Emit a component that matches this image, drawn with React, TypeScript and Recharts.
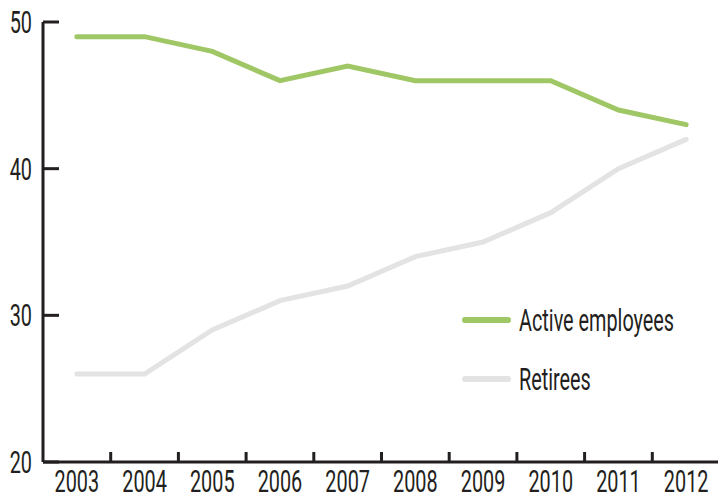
import { LineChart, Line, XAxis, YAxis, Legend } from 'recharts';

const years = ['2003', '2004', '2005', '2006', '2007', '2008', '2009', '2010', '2011', '2012'];
const activeEmployees = [49, 49, 48, 46, 47, 46, 46, 46, 44, 43];
const retirees = [26, 26, 29, 31, 32, 34, 35, 37, 40, 42];
const yTicks = [20, 30, 40, 50];

const GREEN = '#a0c765';
const GREY = '#e3e3e3';
const INK = '#231f20';
const FONT = 'Roboto, "DejaVu Sans", sans-serif';
const SQUEEZE = 0.64;

const data = years.map((year, i) => ({ year, active: activeEmployees[i], retirees: retirees[i] }));

const YTick = ({ x, y, payload }: any) => (
  <text
    transform={`translate(${x},${y + 11}) scale(${SQUEEZE},1)`}
    textAnchor="end"
    fontFamily={FONT}
    fontSize={31}
    fill={INK}
  >
    {payload.value}
  </text>
);

// label in the middle of the band, tick mark on the band's left edge
const XTick = ({ x, y, payload, index, width }: any) => {
  const band = (width || 677) / years.length;
  const edge = x - band / 2;
  return (
    <g>
      {index > 0 && <line x1={edge} x2={edge} y1={y} y2={y - 10} stroke={INK} strokeWidth={3} />}
      <text
        transform={`translate(${x},${y + 30}) scale(${SQUEEZE},1)`}
        textAnchor="middle"
        fontFamily={FONT}
        fontSize={31}
        fill={INK}
      >
        {payload.value}
      </text>
    </g>
  );
};

const LegendBox = ({ payload }: any) => (
  <svg width={250} height={110}>
    {(payload || []).map((item: any, i: number) => {
      const cy = 30 + i * 59;
      return (
        <g key={item.value}>
          <line x1={3} x2={46} y1={cy} y2={cy} stroke={item.color} strokeWidth={6} strokeLinecap="round" />
          <text
            transform={`translate(57,${cy + 11}) scale(${SQUEEZE},1)`}
            fontFamily={FONT}
            fontSize={31}
            fill={INK}
          >
            {item.value}
          </text>
        </g>
      );
    })}
  </svg>
);

export default function App() {
  return (
    <div style={{ position: 'absolute', left: 0, top: 0, width: 718, height: 498, overflow: 'hidden', background: '#fff' }}>
      <LineChart width={720} height={498} data={data} margin={{ top: 22, right: 0, bottom: 0, left: 0 }}>
        <XAxis
          dataKey="year"
          scale="band"
          height={36}
          axisLine={{ stroke: INK, strokeWidth: 3 }}
          tickLine={false}
          tickSize={0}
          tickMargin={0}
          interval={0}
          tick={<XTick />}
        />
        <YAxis
          width={43}
          domain={[20, 50]}
          ticks={yTicks}
          interval={0}
          tickSize={-16}
          tickMargin={27}
          axisLine={{ stroke: INK, strokeWidth: 3 }}
          tickLine={{ stroke: INK, strokeWidth: 3 }}
          tick={<YTick />}
        />
        <Legend
          layout="vertical"
          align="center"
          verticalAlign="middle"
          content={<LegendBox />}
          wrapperStyle={{ left: 462, top: 290, width: 250, height: 110 }}
        />
        <Line
          type="linear"
          dataKey="active"
          name="Active employees"
          stroke={GREEN}
          strokeWidth={5}
          strokeLinecap="round"
          dot={false}
          activeDot={false}
          isAnimationActive={false}
        />
        <Line
          type="linear"
          dataKey="retirees"
          name="Retirees"
          stroke={GREY}
          strokeWidth={5}
          strokeLinecap="round"
          dot={false}
          activeDot={false}
          isAnimationActive={false}
        />
      </LineChart>
    </div>
  );
}
